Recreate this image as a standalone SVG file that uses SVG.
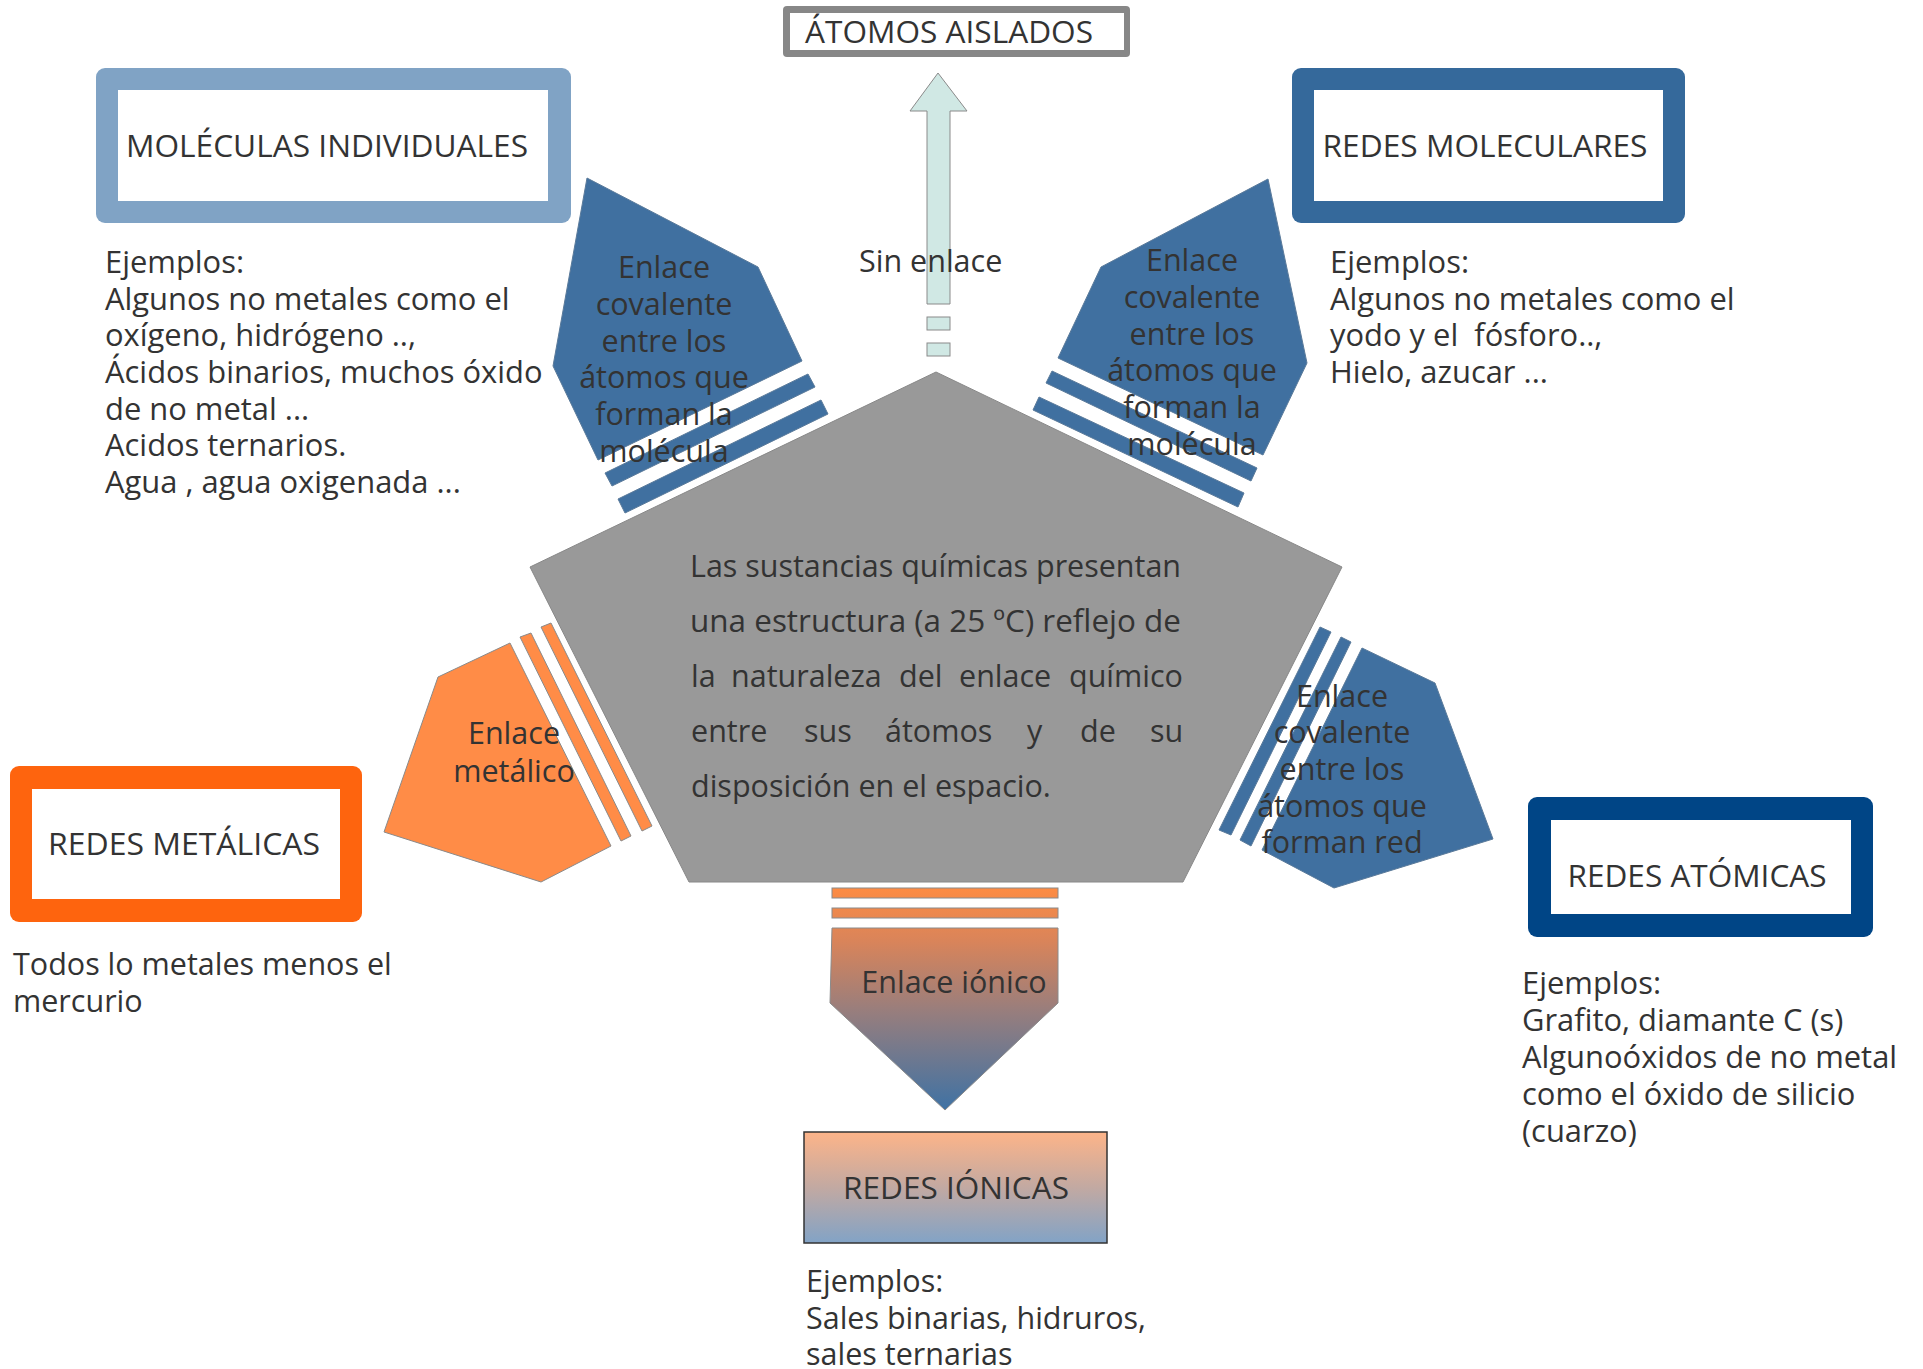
<svg xmlns="http://www.w3.org/2000/svg" width="1923" height="1369" viewBox="0 0 1923 1369">
<defs>
<style>
text{font-family:"Open Sans","Noto Sans",sans-serif;font-size:30.5px;fill:#333333}
.mid{text-anchor:middle}
.ex{font-size:30.9px}
.blue{fill:#4070a0;stroke:#5a7a9a;stroke-width:1}
.orange{fill:#ff8c47;stroke:#8a8a8a;stroke-width:1}
.arrow{fill:#d0e8e4;stroke:#8a8a8a;stroke-width:1}
.inner{fill:#ffffff}
</style>
<linearGradient id="gIon" gradientUnits="userSpaceOnUse" x1="0" y1="885" x2="0" y2="1110">
<stop offset="0" stop-color="#ff8c42"/>
<stop offset="0.25" stop-color="#d9845a"/>
<stop offset="0.55" stop-color="#9a7e7c"/>
<stop offset="1" stop-color="#3f72a4"/>
</linearGradient>
<linearGradient id="gBox" x1="0" y1="0" x2="0" y2="1">
<stop offset="0" stop-color="#fdb489"/>
<stop offset="0.5" stop-color="#c2a9a2"/>
<stop offset="1" stop-color="#82a3c6"/>
</linearGradient>
</defs>
<rect width="1923" height="1369" fill="#ffffff"/>

<g id="centro">
<polygon points="936,372 1342,567 1183,882 689,882 530,567" fill="#999999" stroke="#888888" stroke-width="1"/>
<text x="690" y="577" textLength="491" lengthAdjust="spacingAndGlyphs">Las sustancias químicas presentan</text>
<text x="690" y="632" textLength="491" lengthAdjust="spacingAndGlyphs">una estructura (a 25 ºC) reflejo de</text>
<text y="687"><tspan x="691">la</tspan><tspan x="731">naturaleza</tspan><tspan x="899">del</tspan><tspan x="959">enlace</tspan><tspan x="1069">químico</tspan></text>
<text y="742"><tspan x="691">entre</tspan><tspan x="804">sus</tspan><tspan x="885">átomos</tspan><tspan x="1027">y</tspan><tspan x="1080">de</tspan><tspan x="1150">su</tspan></text>
<text x="691" y="797">disposición en el espacio.</text>
</g>

<g id="conectores">
<g id="sin-enlace">
<polygon class="arrow" points="938,73 967,111 950,111 950,304 927,304 927,111 910,111"/>
<rect class="arrow" x="927" y="317" width="23" height="13"/>
<rect class="arrow" x="927" y="343" width="23" height="13"/>
</g>
<g id="enlace-molecula-izq">
<polygon class="blue" points="587,178 758,267 802,361 598,460 553,366"/>
<polygon class="blue" points="808,374 815,387 612,486 605,473"/>
<polygon class="blue" points="821,400 828,414 625,513 618,499"/>
</g>
<g id="enlace-molecula-der">
<polygon class="blue" points="1268,179 1307,363 1263,455 1058,358 1101,267"/>
<polygon class="blue" points="1052,371 1257,468 1251,481 1046,383"/>
<polygon class="blue" points="1039,397 1244,493 1238,507 1033,410"/>
</g>
<g id="enlace-metalico">
<polygon class="orange" points="438,677 510,643 611,846 541,882 384,832"/>
<polygon class="orange" points="520,637 531,633 631,836 621,841"/>
<polygon class="orange" points="541,627 551,623 652,826 642,831"/>
</g>
<g id="enlace-red">
<polygon class="blue" points="1362,648 1435,683 1493,839 1334,888 1262,850"/>
<polygon class="blue" points="1320,627 1331,632 1231,835 1219,830"/>
<polygon class="blue" points="1341,637 1351,642 1251,846 1240,840"/>
</g>
<g id="enlace-ionico">
<rect x="832" y="888" width="226" height="10" fill="url(#gIon)" stroke="#8a8a8a" stroke-width="1"/>
<rect x="832" y="908" width="226" height="10" fill="url(#gIon)" stroke="#8a8a8a" stroke-width="1"/>
<polygon points="832,928 1058,928 1058,1003 945,1110 830,1003" fill="url(#gIon)" stroke="#8a8a8a" stroke-width="1"/>
</g>
<text x="859" y="272">Sin enlace</text>
<text class="mid" x="664"><tspan x="664" y="278">Enlace</tspan><tspan x="664" y="315">covalente</tspan><tspan x="664" y="352">entre los</tspan><tspan x="664" y="388">átomos que</tspan><tspan x="664" y="425">forman la</tspan><tspan x="664" y="462">molécula</tspan></text>
<text class="mid" x="1192"><tspan x="1192" y="271">Enlace</tspan><tspan x="1192" y="308">covalente</tspan><tspan x="1192" y="345">entre los</tspan><tspan x="1192" y="381">átomos que</tspan><tspan x="1192" y="418">forman la</tspan><tspan x="1192" y="455">molécula</tspan></text>
<text class="mid" x="1342"><tspan x="1342" y="707">Enlace</tspan><tspan x="1342" y="743">covalente</tspan><tspan x="1342" y="780">entre los</tspan><tspan x="1342" y="817">átomos que</tspan><tspan x="1342" y="853">forman red</tspan></text>
<text class="mid" x="514"><tspan x="514" y="744">Enlace</tspan><tspan x="514" y="782">metálico</tspan></text>
<text class="mid" x="954" y="993">Enlace iónico</text>
</g>

<g id="atomos-aislados">
<rect x="783" y="6" width="347" height="51" rx="4" fill="#878787"/>
<rect class="inner" x="790" y="13" width="334" height="37"/>
<text class="mid" x="949" y="43" textLength="288" lengthAdjust="spacingAndGlyphs">ÁTOMOS AISLADOS</text>
</g>

<g id="moleculas-individuales">
<rect x="96" y="68" width="475" height="155" rx="9" fill="#80a3c5"/>
<rect class="inner" x="118" y="90" width="430" height="111"/>
<text class="mid" x="327" y="157" textLength="402" lengthAdjust="spacingAndGlyphs">MOLÉCULAS INDIVIDUALES</text>
<text class="ex" x="105"><tspan x="105" y="273">Ejemplos:</tspan><tspan x="105" y="310">Algunos no metales como el</tspan><tspan x="105" y="346">oxígeno, hidrógeno ..,</tspan><tspan x="105" y="383">Ácidos binarios, muchos óxido</tspan><tspan x="105" y="420">de no metal ...</tspan><tspan x="105" y="456">Acidos ternarios.</tspan><tspan x="105" y="493">Agua , agua oxigenada ...</tspan></text>
</g>

<g id="redes-moleculares">
<rect x="1292" y="68" width="393" height="155" rx="9" fill="#35699b"/>
<rect class="inner" x="1314" y="90" width="349" height="111"/>
<text class="mid" x="1485" y="157" textLength="325" lengthAdjust="spacingAndGlyphs">REDES MOLECULARES</text>
<text class="ex" x="1330" style="white-space:pre"><tspan x="1330" y="273">Ejemplos:</tspan><tspan x="1330" y="310">Algunos no metales como el</tspan><tspan x="1330" y="346">yodo y el  fósforo..,</tspan><tspan x="1330" y="383">Hielo, azucar ...</tspan></text>
</g>

<g id="redes-metalicas">
<rect x="10" y="766" width="352" height="156" rx="9" fill="#fe640e"/>
<rect class="inner" x="32" y="789" width="308" height="110"/>
<text class="mid" x="184" y="855" textLength="272" lengthAdjust="spacingAndGlyphs">REDES METÁLICAS</text>
<text x="13"><tspan x="13" y="975">Todos lo metales menos el</tspan><tspan x="13" y="1012">mercurio</tspan></text>
</g>

<g id="redes-atomicas">
<rect x="1528" y="797" width="345" height="140" rx="9" fill="#004586"/>
<rect class="inner" x="1551" y="820" width="300" height="94"/>
<text class="mid" x="1697" y="887" textLength="259" lengthAdjust="spacingAndGlyphs">REDES ATÓMICAS</text>
<text class="ex" x="1522"><tspan x="1522" y="994">Ejemplos:</tspan><tspan x="1522" y="1031">Grafito, diamante C (s)</tspan><tspan x="1522" y="1068">Algunoóxidos de no metal</tspan><tspan x="1522" y="1105">como el óxido de silicio</tspan><tspan x="1522" y="1142">(cuarzo)</tspan></text>
</g>

<g id="redes-ionicas">
<rect x="804" y="1132" width="303" height="111" fill="url(#gBox)" stroke="#333333" stroke-width="1.5"/>
<text class="mid" x="956" y="1199" textLength="226" lengthAdjust="spacingAndGlyphs">REDES IÓNICAS</text>
<text x="806"><tspan x="806" y="1292">Ejemplos:</tspan><tspan x="806" y="1329">Sales binarias, hidruros,</tspan><tspan x="806" y="1365">sales ternarias</tspan></text>
</g>
</svg>
